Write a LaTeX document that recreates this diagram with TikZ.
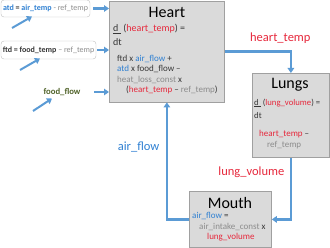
\documentclass[tikz,border=0pt]{standalone}
\usepackage{fontspec}
\setmainfont{Carlito}
\usetikzlibrary{arrows.meta,positioning}
\definecolor{flowblue}{RGB}{91,155,213}
\definecolor{varblue}{RGB}{47,128,210}
\definecolor{varred}{RGB}{230,40,60}
\definecolor{vargray}{RGB}{140,140,140}
\definecolor{darktext}{RGB}{55,55,55}
\definecolor{olivetext}{RGB}{79,98,40}
\definecolor{boxfill}{RGB}{218,218,218}
\definecolor{boxgray}{RGB}{160,160,160}
\definecolor{inputgray}{RGB}{190,190,190}
\newcommand{\bvar}[1]{\textcolor{varblue}{#1}}
\newcommand{\rvar}[1]{\textcolor{varred}{#1}}
\newcommand{\gvar}[1]{\textcolor{vargray}{#1}}

\begin{document}
\begin{tikzpicture}[
      x=1pt,y=-1pt,
      organ/.style={draw=boxgray,fill=boxfill,thick,anchor=north west,inner sep=0pt},
      organtitle/.style={font=\fontsize{16}{18}\selectfont,text=black,inner sep=0pt},
      eqtext/.style={font=\fontsize{9}{10.5}\selectfont,text=darktext,align=left,anchor=north west,inner sep=0pt},
      inputbox/.style={draw=inputgray,fill=white,rounded corners=3pt,inner sep=0pt,font=\fontsize{8}{9}\selectfont,text=darktext},
      varlabel/.style={font=\fontsize{12.5}{14}\selectfont},
      flow/.style={-{Triangle[length=5pt,width=6.5pt]},line width=2.4pt,draw=flowblue}
    ]
      \useasboundingbox (0,0) rectangle (330,248);
      % organ boxes
      \node[organ,minimum width=115pt,minimum height=101pt] (heart) at (109,0.6) {};
      \node[organ,minimum width=77pt,minimum height=84pt] (lungs) at (252,73) {};
      \node[organ,minimum width=82pt,minimum height=56pt] (mouth) at (189,191) {};
      \node[organtitle] (hearttitle) at (167,12) {Heart};
      \node[organtitle] (lungstitle) at (290,85) {Lungs};
      \node[organtitle] (mouthtitle) at (230,203) {Mouth};
      % equations
      \node[eqtext,font=\fontsize{10}{14}\selectfont] (hearteq) at (113,24)
        {\underline{d\hspace{3pt}}\hspace{2pt}(\rvar{heart\_temp}) =\\dt};
      \node[eqtext] (heartrate) at (117,55)
        {ftd x \bvar{air\_flow} +\\
         \bvar{atd} x food\_flow --\\
         \gvar{heat\_loss\_const} x\\
         \hspace{9pt}(\rvar{heart\_temp} -- \gvar{ref\_temp})};
      \node[eqtext,font=\fontsize{8.7}{13}\selectfont] (lungseq) at (254,98.5)
        {\underline{d\hspace{2pt}}\hspace{2pt}(\rvar{lung\_volume}) =\\dt};
      \node[eqtext] (lungsrate) at (259,130.5)
        {\rvar{heart\_temp} --\\\hspace{8pt}\gvar{ref\_temp}};
      \node[eqtext] (moutheq) at (192,212.5)
        {\bvar{air\_flow} =\\
         \hspace{7pt}\gvar{air\_intake\_const} x\\
         \hspace{15pt}\rvar{lung\_volume}};
      % inputs
      \node[inputbox,minimum width=89pt,minimum height=17pt] (atd) at (45.5,8.5)
        {\bfseries\bvar{atd} = \bvar{air\_temp} \mdseries\gvar{- ref\_temp}};
      \node[inputbox,minimum width=95pt,minimum height=18pt] (ftd) at (48.5,50)
        {\bfseries ftd = food\_temp \mdseries\gvar{-- ref\_temp}};
      \node[font=\bfseries\fontsize{8.7}{10}\selectfont,text=olivetext] (foodflow) at (62,92) {food\_flow};
      \coordinate (atdtail) at (12,28);
      \coordinate (atdtip) at (32,16.5);
      \coordinate (ftdtail) at (20,70);
      \coordinate (ftdtip) at (40,58.5);
      \coordinate (foodtail) at (33,111);
      \coordinate (foodtip) at (52,98.5);

      \draw[flow,shorten <=3pt] (atd) -- (atd -| heart.west);
      \draw[flow,shorten <=1pt] (ftd) -- (ftd -| heart.west);
      \draw[flow,shorten <=10pt] (foodflow) -- (foodflow -| heart.west);
      \draw[flow,line width=2pt] (atdtail) -- (atdtip);
      \draw[flow,line width=2pt] (ftdtail) -- (ftdtip);
      \draw[flow,line width=2pt] (foodtail) -- (foodtip);
      \draw[flow] (heart.east) -| node[pos=0.42,above=3pt,varlabel,text=varred]{heart\_temp} (lungs.north);
      \draw[flow] (lungs.south) |- node[pos=0.12,left=2pt,varlabel,text=varred]{lung\_volume} (mouth.east);
      \draw[flow] (mouth.west) -| node[pos=0.81,left=3pt,varlabel,text=varblue]{air\_flow} (heart.south);
    \end{tikzpicture}
\end{document}
